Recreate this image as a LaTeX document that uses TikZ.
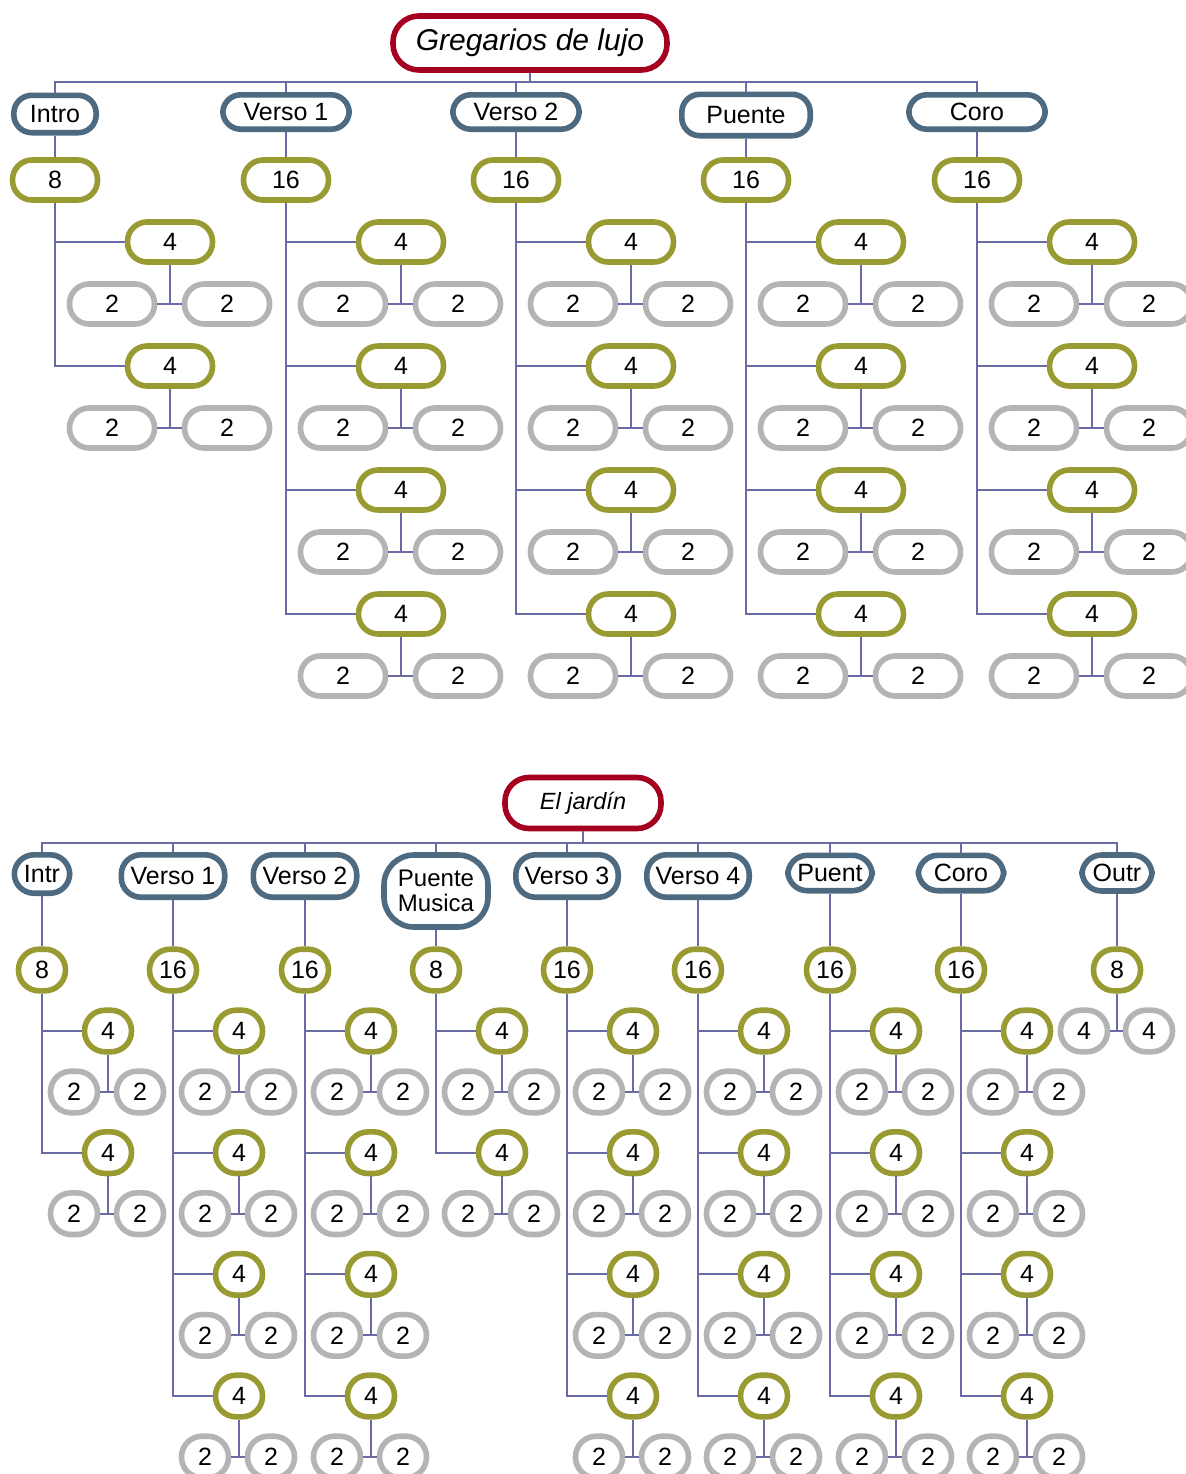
\documentclass[tikz,border=0pt]{standalone}
\usepackage{fontspec}
\setmainfont{Liberation Sans}
\definecolor{cRed}{RGB}{166,0,33}
\definecolor{cSec}{RGB}{78,106,128}
\definecolor{cMid}{RGB}{154,154,50}
\definecolor{cLeaf}{RGB}{180,180,180}
\definecolor{cLine}{RGB}{106,106,164}
\tikzset{
  box/.style={draw, line width=2.8pt, fill=white, inner sep=0pt, text=black,
    font=\fontsize{12.5}{13.5}\selectfont},
  ttl/.style={box, draw=cRed, rounded corners=13pt},
  sec/.style={box, draw=cSec, rounded corners=9pt},
  mid/.style={box, draw=cMid, rounded corners=9.8pt, minimum width=42.5pt, minimum height=20pt},
  leaf/.style={box, draw=cLeaf, rounded corners=9.8pt, minimum width=42.5pt, minimum height=20pt},
  bsec/.style={box, draw=cSec, rounded corners=9.8pt},
  bmid/.style={box, draw=cMid, rounded corners=10.3pt, minimum width=23.5pt, minimum height=20.8pt},
  bleaf/.style={box, draw=cLeaf, rounded corners=10.3pt, minimum width=23.5pt, minimum height=20.8pt},
  conn/.style={draw=cLine, line width=1pt},
}
\begin{document}
\begin{tikzpicture}[x=0.5pt,y=-0.5pt]
\useasboundingbox (0,0) rectangle (1186,1474);
\clip (0,0) rectangle (1186,1474);
\fill[white] (0,0) rectangle (1186,1474);

% ---------------- top tree ----------------
\node[ttl, minimum width=137pt, minimum height=27pt, font=\fontsize{15}{17}\selectfont\itshape] (T1) at (530,43) {Gregarios de lujo};
\coordinate (bus1) at (530,82);
\draw[conn] (T1.south) -- (bus1);
\foreach \i/\c/\w/\h/\yy/\lab/\num/\n in {1/55/88/43/114/Intro/8/2, 2/286/132/40/112/Verso 1/16/4, 3/516/132/40/112/Verso 2/16/4, 4/746/134/47/115/Puente/16/4, 5/977/142/40/112/Coro/16/4}{
  \node[sec, minimum width={\w/2-2.8}, minimum height={\h/2-2.8}] (A\i) at (\c,\yy) {\lab};
  \node[mid] (B\i) at (\c,180) {\num};
  \draw[conn] (A\i.north) |- (bus1);
  \draw[conn] (A\i) -- (B\i);
  \foreach \k in {1,...,\n}{
    \pgfmathsetmacro\yk{242+(\k-1)*124}
    \node[mid] (C\i-\k) at ({\c+115},\yk) {4};
    \node[leaf] (D\i-\k-a) at ({\c+57},{\yk+62}) {2};
    \node[leaf] (D\i-\k-b) at ({\c+172},{\yk+62}) {2};
    \draw[conn] (B\i.south) |- (C\i-\k.west);
    \draw[conn] (D\i-\k-a) -- (D\i-\k-b);
    \draw[conn] (C\i-\k.south) -- (C\i-\k.south |- D\i-\k-a.center);
  }
}

% ---------------- bottom tree ----------------
\node[ttl, minimum width=78pt, minimum height=25.5pt, rounded corners=12pt, font=\fontsize{11.75}{13}\selectfont\itshape] (T2) at (583,803) {El jardín};
\coordinate (bus2) at (583,843);
\draw[conn] (T2.south) -- (bus2);

\newcommand\bblocks[3]{% #1 id, #2 column x, #3 number of blocks
  \foreach \k in {1,...,#3}{
    \pgfmathsetmacro\yk{1031+(\k-1)*121.67}
    \node[bmid] (G#1-\k) at ({#2+66},\yk) {4};
    \node[bleaf] (H#1-\k-a) at ({#2+32},{\yk+61}) {2};
    \node[bleaf] (H#1-\k-b) at ({#2+98},{\yk+61}) {2};
    \draw[conn] (F#1.south) |- (G#1-\k.west);
    \draw[conn] (H#1-\k-a) -- (H#1-\k-b);
    \draw[conn] (G#1-\k.south) -- (G#1-\k.south |- H#1-\k-a.center);
  }
}

\foreach \i/\c/\w/\h/\yy/\lab/\num/\n in {1/42/61/44/874/Intr/8/2, 2/173/109/48/876/Verso 1/16/4, 3/305/109/48/876/Verso 2/16/4, 5/567/108/48/876/Verso 3/16/4, 6/698/108/48/876/Verso 4/16/4, 7/830/90/41/873/Puent/16/4, 8/961/91/41/873/Coro/16/4}{
  \node[bsec, minimum width={\w/2-2.8}, minimum height={\h/2-2.8}] (E\i) at (\c,\yy) {\lab};
  \node[bmid] (F\i) at (\c,970) {\num};
  \draw[conn] (E\i.north) |- (bus2);
  \draw[conn] (E\i) -- (F\i);
  \bblocks{\i}{\c}{\n}
}

% Puente Musica
\node[bsec, minimum width=52pt, minimum height=36pt, rounded corners=15pt, align=center,
  font=\fontsize{12}{12.5}\selectfont] (E4) at (436,891) {Puente\\Musica};
\node[bmid] (F4) at (436,970) {8};
\draw[conn] (E4.north) |- (bus2);
\draw[conn] (E4) -- (F4);
\bblocks{4}{436}{2}

% Outr
\node[bsec, minimum width=35pt, minimum height=18pt] (E9) at (1117,873) {Outr};
\node[bmid] (F9) at (1117,970) {8};
\draw[conn] (E9.north) |- (bus2);
\draw[conn] (E9) -- (F9);
\node[bleaf] (K9a) at (1084,1031) {4};
\node[bleaf] (K9b) at (1149,1031) {4};
\draw[conn] (K9a) -- (K9b);
\draw[conn] (F9.south) -- (F9.south |- K9a.center);
\end{tikzpicture}
\end{document}
